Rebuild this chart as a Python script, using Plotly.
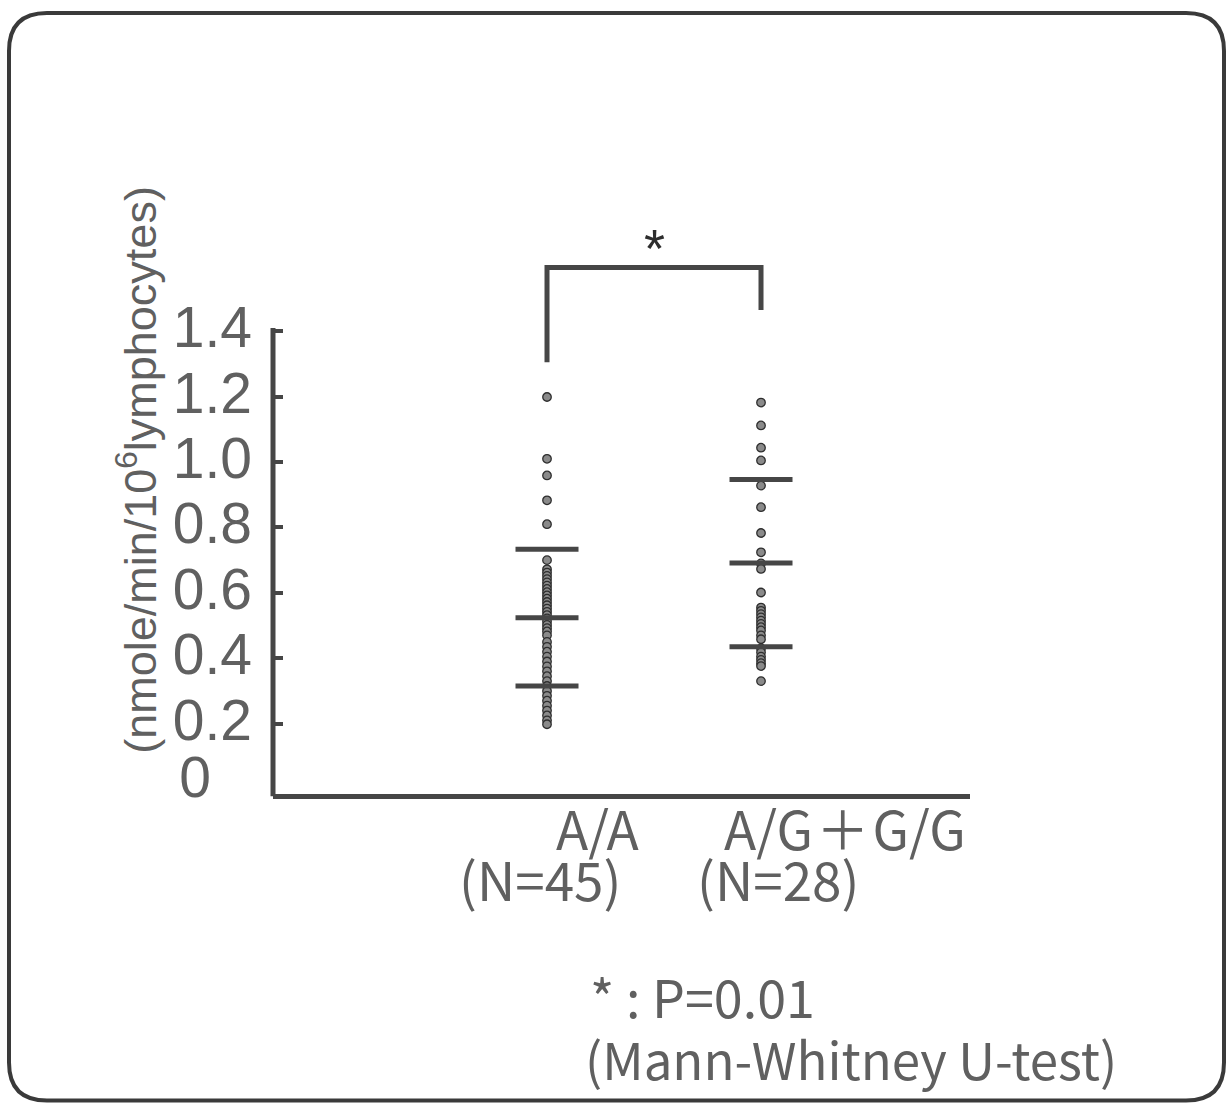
import plotly.graph_objects as go

# ---------------- data ----------------
categories = ["A/A", "A/G+G/G"]
cat_pos = [1, 2]
n_labels = ["(N=45)", "(N=28)"]

aa_values = [1.199, 1.010, 0.959, 0.883, 0.810,
             0.700, 0.672, 0.662, 0.652, 0.642, 0.632, 0.622, 0.612, 0.602, 0.592,
             0.582, 0.572, 0.562, 0.552, 0.542, 0.532, 0.522, 0.512, 0.502, 0.492,
             0.482, 0.470,
             0.450, 0.435, 0.420, 0.405, 0.390, 0.375, 0.360, 0.345, 0.330, 0.315,
             0.300, 0.285, 0.270, 0.255, 0.240, 0.225, 0.210, 0.198]
ag_values = [1.182, 1.112, 1.044, 1.005, 0.928, 0.862, 0.783, 0.724, 0.690, 0.673,
             0.601, 0.555, 0.545, 0.535, 0.525, 0.515, 0.505, 0.495, 0.485, 0.470,
             0.458, 0.430, 0.418, 0.405, 0.395, 0.385, 0.376, 0.330]

means = [0.524, 0.691]
sds = [0.209, 0.256]

bracket_left_bottom = 1.305
bracket_top = 1.595
bracket_right_bottom = 1.465
star_level = 1.675

ytick_vals = [0.2, 0.4, 0.6, 0.8, 1.0, 1.2, 1.4]
ytick_text = ["0.2", "0.4", "0.6", "0.8", "1.0", "1.2", "1.4"]
zero_tick = [0]
zero_text = ["0"]

# ---------------- layout constants ----------------
W = 1228
HF = 1101.0             # usable height of the page that holds the figure
DARK = "#464646"
TXT = "#606060"


def px(xp):
    return xp / W


def py(yp):
    return 1 - yp / HF


def pyt(yp):
    # text boxes: glyphs sit a little below the box centre
    return 1 - (yp * 0.994) / HF


fig = go.Figure()

# dots
for xpos, vals in zip(cat_pos, [aa_values, ag_values]):
    fig.add_trace(go.Scatter(
        x=[xpos] * len(vals), y=vals, mode="markers",
        marker=dict(symbol="circle", size=8.5, color="#8a8a8a",
                    line=dict(width=1.3, color="#2e2e2e")),
        showlegend=False, hoverinfo="y"))

# mean and mean +/- SD bars
bar_y = []
bar_x = []
for xpos, m, s in zip(cat_pos, means, sds):
    bar_x += [xpos, xpos, xpos]
    bar_y += [m + s, m, m - s]
fig.add_trace(go.Scatter(
    x=bar_x, y=bar_y, mode="markers",
    marker=dict(symbol="line-ew", size=45, line=dict(width=5, color=DARK)),
    showlegend=False, hoverinfo="y"))

# significance bracket
fig.add_trace(go.Scatter(
    x=[cat_pos[0], cat_pos[0], cat_pos[1], cat_pos[1]],
    y=[bracket_left_bottom, bracket_top, bracket_top, bracket_right_bottom],
    mode="lines", line=dict(width=5, color=DARK),
    showlegend=False, hoverinfo="skip"))

fig.add_trace(go.Scatter(x=[1], y=[0.5], yaxis="y2", mode="markers",
                         marker=dict(size=1, opacity=0), showlegend=False,
                         hoverinfo="skip"))

# plot region (reference picture pixels): y-axis at 273, x-axis end 970,
# tick 1.4 at 330.7, tick 0.2 at 722.3, x-axis line at 795
t14, t02, axis_y, top_y = 330.7, 722.3, 795.0, 200.0
ppu = (t02 - t14) / 1.2
zero_y = t02 + 0.2 * ppu
yrange = [-(axis_y - zero_y) / ppu, (zero_y - top_y) / ppu]
xdom = [px(273), px(970)]
ydom = [py(axis_y), py(top_y)]

fig.update_layout(
    autosize=True,
    margin=dict(l=0, r=0, t=0, b=0),
    paper_bgcolor="white", plot_bgcolor="rgba(0,0,0,0)",
    xaxis=dict(domain=xdom, range=[-0.2804, 2.9766], showgrid=False,
               zeroline=False, showline=False, showticklabels=False, ticks=""),
    yaxis=dict(domain=ydom, range=yrange, showgrid=False, zeroline=False,
               showline=False, tickmode="array", tickvals=ytick_vals,
               ticktext=ytick_text, ticks="inside", ticklen=10, tickwidth=4,
               tickcolor=DARK, ticklabelstandoff=20, ticklabelshift=-4,
               tickfont=dict(family="Liberation Sans", size=57, color=TXT)),
    yaxis2=dict(domain=ydom, range=yrange, overlaying="y", side="left",
                anchor="x", showgrid=False, zeroline=False, showline=False,
                tickmode="array", tickvals=zero_tick, ticktext=zero_text,
                ticks="", ticklabelstandoff=61, ticklabelshift=-12,
                tickfont=dict(family="Liberation Sans", size=57, color=TXT)),
)

# axis lines
fig.add_shape(type="line", xref="x domain", yref="y", x0=0, x1=0,
              y0=yrange[0], y1=1.41, line=dict(width=5, color=DARK))
fig.add_shape(type="line", xref="x domain", yref="y domain", x0=0, x1=1,
              y0=0, y1=0, line=dict(width=5, color=DARK))

# rounded border
L, T, R, B, rad = 9, 13, 1224, 1098.5, 38
path = (f"M {px(L)},{py(T + rad)} "
        f"Q {px(L)},{py(T)} {px(L + rad)},{py(T)} "
        f"L {px(R - rad)},{py(T)} "
        f"Q {px(R)},{py(T)} {px(R)},{py(T + rad)} "
        f"L {px(R)},{py(B - rad)} "
        f"Q {px(R)},{py(B)} {px(R - rad)},{py(B)} "
        f"L {px(L + rad)},{py(B)} "
        f"Q {px(L)},{py(B)} {px(L)},{py(B - rad)} Z")
fig.add_shape(type="path", xref="paper", yref="paper", path=path,
              line=dict(width=4, color="#3a3a3a"))

# y title
fig.add_annotation(text="(nmole/min/10<sup>6</sup>lymphocytes)", textangle=-90,
                   xref="paper", yref="paper", x=px(137), y=py(469),
                   xanchor="center", yanchor="middle", showarrow=False,
                   font=dict(family="Liberation Sans", size=45, color=TXT))

# asterisk
fig.add_annotation(text="*", xref="x", yref="y",
                   x=(cat_pos[0] + cat_pos[1]) / 2, y=star_level,
                   xanchor="center", yanchor="middle",
                   showarrow=False, yshift=-7,
                   font=dict(family="Liberation Sans", size=54, color="#2e2e2e"))

# category labels
JP = "Noto Sans CJK JP"
cat_centers = [597, 845]
n_centers = [540, 778]
for c, n, cx, nx in zip(categories, n_labels, cat_centers, n_centers):
    fig.add_annotation(text=c.replace("+", "\u200a＋\u200a"), xref="paper",
                       yref="paper", x=px(cx), y=pyt(830), xanchor="center",
                       yanchor="middle", showarrow=False,
                       font=dict(family=JP, size=53, color=TXT))
    fig.add_annotation(text=n, xref="paper", yref="paper",
                       x=px(nx), y=pyt(882), xanchor="center", yanchor="middle",
                       showarrow=False,
                       font=dict(family=JP, size=53, color=TXT))

# footnotes
fig.add_annotation(text="*\u00a0:\u00a0P=0.01", xref="paper", yref="paper",
                   x=px(588), y=pyt(1000), xanchor="left", yanchor="middle",
                   showarrow=False,
                   font=dict(family=JP, size=52, color=TXT))
fig.add_annotation(text="(Mann-Whitney U-test)", xref="paper", yref="paper",
                   x=px(583), y=pyt(1062), xanchor="left", yanchor="middle",
                   showarrow=False,
                   font=dict(family=JP, size=51, color=TXT))

fit_js = (
    "document.body.style.margin='0px';"
    "document.body.style.overflow='hidden';"
    "Plotly.Plots.resize(document.getElementById('{plot_id}'));"
)

fig.write_html("out.html",
               config={"displayModeBar": False, "responsive": True},
               default_width="100%", default_height="100%",
               post_script=fit_js)
